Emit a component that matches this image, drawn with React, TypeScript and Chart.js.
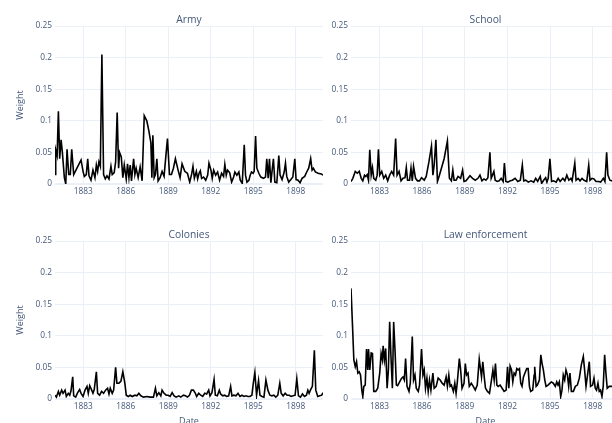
import React, { useEffect, useRef } from "react";
import { Chart, registerables } from "chart.js";

Chart.register(...registerables);

const FONT = '"Open Sans", sans-serif';
const TEXT = "#44587a";
const GRID = "#ebf0f8";

const xTickValues = [1883, 1886, 1889, 1892, 1895, 1898];
const yTickValues = [0, 0.05, 0.1, 0.15, 0.2, 0.25];
const xRange = [1881.0, 1899.92];
const yRange = [0, 0.25];

const armyX = [
  1881.0, 1881.05, 1881.15, 1881.24, 1881.33, 1881.43, 1881.52, 1881.66, 1881.76, 1881.85, 1881.97,
  1882.08, 1882.18, 1882.32, 1882.55, 1882.84, 1882.98, 1883.07, 1883.21, 1883.31, 1883.4, 1883.54,
  1883.68, 1883.82, 1883.92, 1884.01, 1884.1, 1884.2, 1884.31, 1884.43, 1884.55, 1884.67, 1884.81,
  1884.95, 1885.04, 1885.18, 1885.28, 1885.39, 1885.49, 1885.56, 1885.68, 1885.79, 1885.89, 1886.03,
  1886.12, 1886.22, 1886.31, 1886.4, 1886.55, 1886.64, 1886.73, 1886.87, 1887.01, 1887.15, 1887.3,
  1887.48, 1887.62, 1887.77, 1887.84, 1887.91, 1888.0, 1888.09, 1888.19, 1888.28, 1888.42, 1888.56,
  1888.7, 1888.85, 1888.94, 1889.08, 1889.22, 1889.36, 1889.5, 1889.69, 1889.83, 1889.97, 1890.16,
  1890.35, 1890.51, 1890.65, 1890.74, 1890.84, 1890.98, 1891.07, 1891.17, 1891.26, 1891.35, 1891.49,
  1891.64, 1891.78, 1891.87, 1892.01, 1892.1, 1892.2, 1892.34, 1892.48, 1892.62, 1892.76, 1892.9,
  1892.99, 1893.09, 1893.18, 1893.33, 1893.47, 1893.61, 1893.7, 1893.84, 1893.98, 1894.08, 1894.22,
  1894.36, 1894.45, 1894.55, 1894.69, 1894.78, 1894.87, 1894.99, 1895.06, 1895.16, 1895.25, 1895.39,
  1895.53, 1895.72, 1895.86, 1895.95, 1896.05, 1896.14, 1896.24, 1896.33, 1896.42, 1896.52, 1896.66,
  1896.8, 1896.89, 1897.03, 1897.18, 1897.27, 1897.36, 1897.5, 1897.65, 1897.79, 1897.93, 1898.02,
  1898.16, 1898.3, 1898.44, 1898.63, 1898.77, 1898.91, 1899.05, 1899.15, 1899.24, 1899.38, 1899.57,
  1899.8, 1899.92,
];
const armyY = [
  0.015, 0.054, 0.045, 0.115, 0.04, 0.07, 0.05, 0.01, 0, 0.055, 0.015,
  0.015, 0.055, 0.015, 0.025, 0.038, 0.02, 0.012, 0.015, 0.04, 0.013, 0.006,
  0.022, 0.01, 0.03, 0.02, 0.035, 0.028, 0.205, 0.015, 0.008, 0.013, 0.008,
  0.028, 0.015, 0.018, 0.035, 0.113, 0.025, 0.05, 0.043, 0.01, 0.03, 0.008,
  0.032, 0.01, 0.03, 0.005, 0.04, 0.015, 0.025, 0.01, 0.027, 0.005, 0.108,
  0.1, 0.085, 0.065, 0.01, 0.077, 0.01, 0.015, 0.04, 0.005, 0.01, 0.02,
  0.012, 0.05, 0.072, 0.015, 0.015, 0.025, 0.04, 0.022, 0.01, 0.032, 0.02,
  0.017, 0.003, 0.016, 0.028, 0.009, 0.02, 0.008, 0.017, 0.021, 0.009, 0.011,
  0.006, 0.014, 0.033, 0.022, 0.009, 0.022, 0.014, 0.019, 0.006, 0.017, 0.012,
  0.031, 0.014, 0.022, 0.018, 0.003, 0.011, 0.019, 0.014, 0.019, 0.006, 0.001,
  0.062, 0.014, 0.003, 0.006, 0.014, 0.019, 0.017, 0.02, 0.076, 0.025, 0.017,
  0.011, 0.009, 0.011, 0.04, 0.009, 0.04, 0.002, 0.022, 0.04, 0.003, 0.002,
  0.045, 0.014, 0.007, 0.019, 0.033, 0.012, 0.003, 0.007, 0.011, 0.04, 0.007,
  0.006, 0.002, 0.009, 0.012, 0.019, 0.025, 0.04, 0.022, 0.025, 0.019, 0.017,
  0.016, 0.014,
];

const schoolX = [
  1881.0, 1881.13, 1881.3, 1881.44, 1881.58, 1881.72, 1881.83, 1881.95, 1882.04, 1882.14, 1882.23,
  1882.32, 1882.42, 1882.51, 1882.6, 1882.74, 1882.84, 1882.93, 1883.02, 1883.16, 1883.3, 1883.44,
  1883.58, 1883.72, 1883.86, 1884.0, 1884.14, 1884.24, 1884.38, 1884.52, 1884.66, 1884.8, 1884.89,
  1884.98, 1885.12, 1885.22, 1885.31, 1885.4, 1885.54, 1885.68, 1885.82, 1885.96, 1886.15, 1886.29,
  1886.48, 1886.66, 1886.76, 1886.85, 1886.97, 1887.08, 1887.22, 1887.36, 1887.55, 1887.78, 1887.92,
  1888.06, 1888.16, 1888.25, 1888.39, 1888.53, 1888.71, 1888.85, 1888.95, 1889.09, 1889.23, 1889.37,
  1889.55, 1889.74, 1889.93, 1890.07, 1890.21, 1890.35, 1890.49, 1890.63, 1890.77, 1890.86, 1890.95,
  1891.05, 1891.14, 1891.28, 1891.42, 1891.56, 1891.7, 1891.79, 1891.89, 1892.03, 1892.21, 1892.35,
  1892.54, 1892.73, 1892.91, 1893.05, 1893.15, 1893.29, 1893.47, 1893.66, 1893.85, 1893.99, 1894.13,
  1894.31, 1894.41, 1894.55, 1894.69, 1894.78, 1894.87, 1894.99, 1895.11, 1895.25, 1895.43, 1895.57,
  1895.71, 1895.9, 1896.04, 1896.18, 1896.32, 1896.46, 1896.55, 1896.74, 1896.83, 1896.97, 1897.11,
  1897.25, 1897.39, 1897.58, 1897.72, 1897.81, 1897.95, 1898.09, 1898.23, 1898.42, 1898.56, 1898.75,
  1898.86, 1898.98, 1899.07, 1899.21, 1899.35, 1899.55, 1899.75, 1899.92,
];
const schoolY = [
  0.004, 0.009, 0.02, 0.017, 0.02, 0.009, 0.005, 0.014, 0.012, 0.015, 0.006,
  0.054, 0.014, 0.026, 0.009, 0.006, 0.014, 0.055, 0.014, 0.02, 0.009, 0.014,
  0.005, 0.014, 0.02, 0.014, 0.072, 0.014, 0.02, 0.005, 0.009, 0.01, 0.026,
  0.006, 0.006, 0.025, 0.005, 0.028, 0.009, 0.005, 0.005, 0.01, 0.006, 0.012,
  0.035, 0.06, 0.014, 0.03, 0.07, 0.004, 0.014, 0.025, 0.04, 0.068, 0.009,
  0.005, 0.022, 0.006, 0.006, 0.012, 0.009, 0.022, 0.004, 0.005, 0.009, 0.013,
  0.009, 0.006, 0.009, 0.014, 0.005, 0.008, 0.006, 0.01, 0.05, 0.009, 0.014,
  0.02, 0.006, 0.004, 0.005, 0.009, 0.004, 0.033, 0.004, 0.003, 0.005, 0.006,
  0.009, 0.004, 0.006, 0.03, 0.005, 0.006, 0.003, 0.005, 0.003, 0.009, 0.004,
  0.012, 0.001, 0.006, 0.01, 0.003, 0.009, 0.04, 0.004, 0.005, 0.003, 0.009,
  0.004, 0.009, 0.005, 0.014, 0.006, 0.009, 0.005, 0.033, 0.006, 0.009, 0.005,
  0.009, 0.006, 0.004, 0.03, 0.006, 0.009, 0.008, 0.004, 0.004, 0.003, 0.009,
  0.004, 0.05, 0.014, 0.006, 0.005, 0.008, 0.004, 0.006,
];

const coloniesX = [
  1881.0, 1881.1, 1881.24, 1881.33, 1881.47, 1881.57, 1881.71, 1881.8, 1881.94, 1882.04, 1882.13,
  1882.25, 1882.32, 1882.46, 1882.6, 1882.74, 1882.84, 1882.98, 1883.12, 1883.26, 1883.35, 1883.45,
  1883.59, 1883.68, 1883.77, 1883.92, 1884.01, 1884.15, 1884.29, 1884.43, 1884.57, 1884.71, 1884.81,
  1884.9, 1885.04, 1885.14, 1885.28, 1885.37, 1885.51, 1885.65, 1885.79, 1885.93, 1886.03, 1886.17,
  1886.31, 1886.45, 1886.64, 1886.78, 1886.92, 1887.06, 1887.25, 1887.48, 1887.72, 1887.95, 1888.09,
  1888.19, 1888.33, 1888.47, 1888.56, 1888.7, 1888.85, 1888.99, 1889.13, 1889.27, 1889.41, 1889.55,
  1889.74, 1889.88, 1890.07, 1890.21, 1890.35, 1890.49, 1890.63, 1890.77, 1890.91, 1891.0, 1891.15,
  1891.29, 1891.43, 1891.57, 1891.71, 1891.85, 1891.94, 1892.08, 1892.23, 1892.32, 1892.46, 1892.6,
  1892.69, 1892.84, 1892.98, 1893.12, 1893.26, 1893.4, 1893.49, 1893.63, 1893.78, 1893.92, 1894.06,
  1894.2, 1894.34, 1894.48, 1894.62, 1894.76, 1894.9, 1895.0, 1895.11, 1895.23, 1895.37, 1895.47,
  1895.61, 1895.75, 1895.89, 1896.03, 1896.17, 1896.31, 1896.45, 1896.59, 1896.73, 1896.87, 1896.97,
  1897.11, 1897.25, 1897.39, 1897.53, 1897.67, 1897.81, 1897.95, 1898.07, 1898.19, 1898.33, 1898.47,
  1898.61, 1898.75, 1898.85, 1898.94, 1899.03, 1899.17, 1899.31, 1899.41, 1899.55, 1899.69, 1899.83,
  1899.92,
];
const coloniesY = [
  0.006, 0.003, 0.012, 0.006, 0.014, 0.009, 0.014, 0.004, 0.009, 0.006, 0.013,
  0.035, 0.005, 0.003, 0.01, 0.015, 0.009, 0.004, 0.014, 0.02, 0.009, 0.021,
  0.014, 0.009, 0.015, 0.043, 0.009, 0.006, 0.012, 0.009, 0.014, 0.017, 0.008,
  0.017, 0.009, 0.014, 0.05, 0.025, 0.025, 0.028, 0.043, 0.025, 0.006, 0.004,
  0.006, 0.004, 0.006, 0.005, 0.009, 0.005, 0.003, 0.004, 0.003, 0.003, 0.017,
  0.005, 0.01, 0.005, 0.014, 0.009, 0.006, 0.006, 0.004, 0.01, 0.005, 0.003,
  0.005, 0.003, 0.006, 0.005, 0.003, 0.006, 0.014, 0.014, 0.009, 0.004, 0.009,
  0.006, 0.004, 0.009, 0.008, 0.014, 0.005, 0.01, 0.031, 0.006, 0.005, 0.014,
  0.008, 0.005, 0.006, 0.004, 0.005, 0.02, 0.005, 0.006, 0.005, 0.009, 0.004,
  0.006, 0.004, 0.005, 0.004, 0.004, 0.006, 0.025, 0.042, 0.006, 0.029, 0.006,
  0.004, 0.003, 0.03, 0.014, 0.006, 0.005, 0.006, 0.003, 0.006, 0.025, 0.009,
  0.005, 0.009, 0.006, 0.006, 0.004, 0.005, 0.006, 0.032, 0.005, 0.003, 0.008,
  0.004, 0.006, 0.014, 0.009, 0.014, 0.02, 0.077, 0.014, 0.004, 0.005, 0.006,
  0.01,
];

const lawX = [
  1881.0, 1881.11, 1881.2, 1881.3, 1881.39, 1881.48, 1881.58, 1881.67, 1881.76, 1881.83, 1881.9,
  1882.0, 1882.09, 1882.18, 1882.23, 1882.32, 1882.42, 1882.51, 1882.6, 1882.74, 1882.88, 1883.02,
  1883.12, 1883.21, 1883.26, 1883.35, 1883.44, 1883.54, 1883.63, 1883.72, 1883.82, 1883.91, 1884.0,
  1884.1, 1884.19, 1884.28, 1884.42, 1884.56, 1884.66, 1884.75, 1884.84, 1884.94, 1885.08, 1885.17,
  1885.31, 1885.4, 1885.5, 1885.59, 1885.73, 1885.82, 1885.96, 1886.06, 1886.15, 1886.24, 1886.34,
  1886.43, 1886.52, 1886.62, 1886.76, 1886.85, 1886.99, 1887.13, 1887.27, 1887.41, 1887.55, 1887.69,
  1887.78, 1887.88, 1887.97, 1888.06, 1888.2, 1888.3, 1888.39, 1888.48, 1888.62, 1888.71, 1888.81,
  1888.95, 1889.04, 1889.13, 1889.23, 1889.32, 1889.46, 1889.6, 1889.74, 1889.88, 1890.02, 1890.18,
  1890.27, 1890.37, 1890.46, 1890.6, 1890.74, 1890.88, 1890.98, 1891.07, 1891.16, 1891.26, 1891.35,
  1891.49, 1891.63, 1891.77, 1891.91, 1892.01, 1892.1, 1892.19, 1892.29, 1892.38, 1892.47, 1892.57,
  1892.66, 1892.75, 1892.85, 1892.94, 1893.03, 1893.13, 1893.27, 1893.36, 1893.46, 1893.55, 1893.64,
  1893.78, 1893.88, 1893.92, 1894.02, 1894.11, 1894.25, 1894.35, 1894.44, 1894.53, 1894.63, 1894.72,
  1894.86, 1895.0, 1895.09, 1895.23, 1895.37, 1895.47, 1895.56, 1895.65, 1895.75, 1895.84, 1895.93,
  1896.03, 1896.12, 1896.22, 1896.31, 1896.4, 1896.5, 1896.64, 1896.78, 1896.92, 1897.06, 1897.2,
  1897.34, 1897.43, 1897.53, 1897.62, 1897.76, 1897.85, 1897.99, 1898.09, 1898.18, 1898.27, 1898.37,
  1898.46, 1898.55, 1898.65, 1898.74, 1898.84, 1898.93, 1899.02, 1899.16, 1899.3, 1899.5, 1899.7,
  1899.92,
];
const lawY = [
  0.175, 0.114, 0.062, 0.051, 0.059, 0.041, 0.043, 0.038, 0.014, 0.004, 0.02,
  0.022, 0.079, 0.046, 0.079, 0.046, 0.073, 0.072, 0.012, 0.012, 0.017, 0.041,
  0.072, 0.062, 0.084, 0.062, 0.08, 0.017, 0.046, 0.122, 0.062, 0.017, 0.122,
  0.075, 0.022, 0.021, 0.027, 0.033, 0.035, 0.03, 0.064, 0.02, 0.012, 0.025,
  0.099, 0.03, 0.038, 0.017, 0.012, 0.022, 0.079, 0.038, 0.046, 0.017, 0.033,
  0.012, 0.03, 0.014, 0.041, 0.017, 0.02, 0.033, 0.03, 0.025, 0.022, 0.035,
  0.02, 0.038, 0.02, 0.022, 0.012, 0.025, 0.009, 0.027, 0.064, 0.046, 0.017,
  0.025, 0.056, 0.038, 0.041, 0.02, 0.025, 0.02, 0.014, 0.022, 0.063, 0.035,
  0.059, 0.035, 0.017, 0.012, 0.009, 0.03, 0.046, 0.03, 0.056, 0.022, 0.02,
  0.022, 0.017, 0.012, 0.014, 0.051, 0.017, 0.052, 0.046, 0.027, 0.041, 0.038,
  0.048, 0.046, 0.048, 0.025, 0.02, 0.035, 0.043, 0.048, 0.048, 0.02, 0.012,
  0.014, 0.038, 0.051, 0.02, 0.022, 0.03, 0.07, 0.056, 0.046, 0.03, 0.02,
  0.022, 0.025, 0.027, 0.025, 0.02, 0.027, 0.022, 0.027, 0.004, 0.014, 0.038,
  0.03, 0.046, 0.038, 0.02, 0.041, 0.012, 0.012, 0.02, 0.022, 0.033, 0.054,
  0.067, 0.046, 0.02, 0.035, 0.059, 0.02, 0.022, 0.033, 0.017, 0.014, 0.025,
  0.012, 0.014, 0.004, 0.02, 0.07, 0.041, 0.017, 0.02, 0.02, 0.02, 0.018,
  0.02,
];

const subplotTitle = {
  id: "subplotTitle",
  afterDraw(chart: any, _args: any, opts: any) {
    const { ctx, chartArea } = chart;
    ctx.save();
    ctx.font = `${opts.size}px ${FONT}`;
    ctx.fillStyle = TEXT;
    ctx.textAlign = "center";
    ctx.textBaseline = "middle";
    ctx.fillText(opts.text, (chartArea.left + chartArea.right) / 2, opts.y);
    ctx.restore();
  },
};

type PanelProps = {
  title: string;
  xs: number[];
  ys: number[];
  left: number;
  top: number;
  width: number;
  height: number;
  padL: number;
  padR: number;
  padB: number;
  yW: number;
  xH: number;
  yTitle: boolean;
  xTitle: boolean;
};

function Panel(p: PanelProps) {
  const ref = useRef<HTMLCanvasElement | null>(null);
  useEffect(() => {
    if (!ref.current) return;
    const chart = new Chart(ref.current, {
      type: "line",
      data: {
        datasets: [
          {
            data: p.xs.map((x, i) => ({ x, y: p.ys[i] })),
            borderColor: "#000000",
            borderWidth: 1.6,
            pointRadius: 0,
            tension: 0,
            fill: false,
          },
        ],
      },
      options: {
        animation: false,
        responsive: false,
        devicePixelRatio: 1,
        layout: { padding: { left: p.padL, right: p.padR, top: 26, bottom: p.padB } },
        plugins: {
          legend: { display: false },
          tooltip: { enabled: false },
          subplotTitle: { text: p.title, size: 10.3, y: 20 },
        } as any,
        scales: {
          x: {
            type: "linear",
            min: xRange[0],
            max: xRange[1],
            border: { display: false },
            grid: { color: GRID, drawTicks: false, lineWidth: 1 },
            ticks: {
              color: TEXT,
              font: { family: FONT, size: 8.3 },
              padding: 3,
              autoSkip: false,
              maxRotation: 0,
              callback: (v: any) => String(v),
            },
            afterBuildTicks: (s: any) => {
              s.ticks = xTickValues.map((v) => ({ value: v }));
            },
            afterFit: (s: any) => {
              s.height = p.xH;
            },
            title: {
              display: p.xTitle,
              text: "Date",
              color: TEXT,
              font: { family: FONT, size: 9 },
              padding: 0,
            },
          },
          y: {
            type: "linear",
            min: yRange[0],
            max: yRange[1],
            border: { display: false },
            grid: {
              color: GRID,
              drawTicks: false,
              lineWidth: (c: any) => (c.tick && c.tick.value === 0 ? 2 : 1),
            },
            ticks: {
              color: TEXT,
              font: { family: FONT, size: 8.3 },
              padding: 3,
              callback: (v: any) => String(v),
            },
            afterBuildTicks: (s: any) => {
              s.ticks = yTickValues.map((v) => ({ value: v }));
            },
            afterFit: (s: any) => {
              s.width = p.yW;
            },
            title: {
              display: p.yTitle,
              text: "Weight",
              color: TEXT,
              font: { family: FONT, size: 9 },
              padding: 0,
            },
          },
        },
      },
      plugins: [subplotTitle],
    });
    return () => chart.destroy();
  }, []);
  return (
    <canvas
      ref={ref}
      width={p.width}
      height={p.height}
      style={{ position: "absolute", left: p.left, top: p.top, display: "block" }}
    />
  );
}

export default function App() {
  return (
    <div
      style={{
        position: "fixed",
        left: 0,
        top: 0,
        width: 612,
        height: 423,
        overflow: "hidden",
        background: "#ffffff",
      }}
    >
      <Panel title="Army" xs={armyX} ys={armyY} left={0} top={0} width={330} height={200}
        padL={15} padR={7} padB={0} yW={40} xH={16} yTitle={true} xTitle={false} />
      <Panel title="School" xs={schoolX} ys={schoolY} left={310} top={0} width={320} height={200}
        padL={0} padR={10} padB={0} yW={41} xH={16} yTitle={false} xTitle={false} />
      <Panel title="Colonies" xs={coloniesX} ys={coloniesY} left={0} top={215} width={330} height={220}
        padL={15} padR={7} padB={8} yW={40} xH={28} yTitle={true} xTitle={true} />
      <Panel title="Law enforcement" xs={lawX} ys={lawY} left={310} top={215} width={320} height={220}
        padL={0} padR={10} padB={8} yW={41} xH={28} yTitle={false} xTitle={true} />
    </div>
  );
}
